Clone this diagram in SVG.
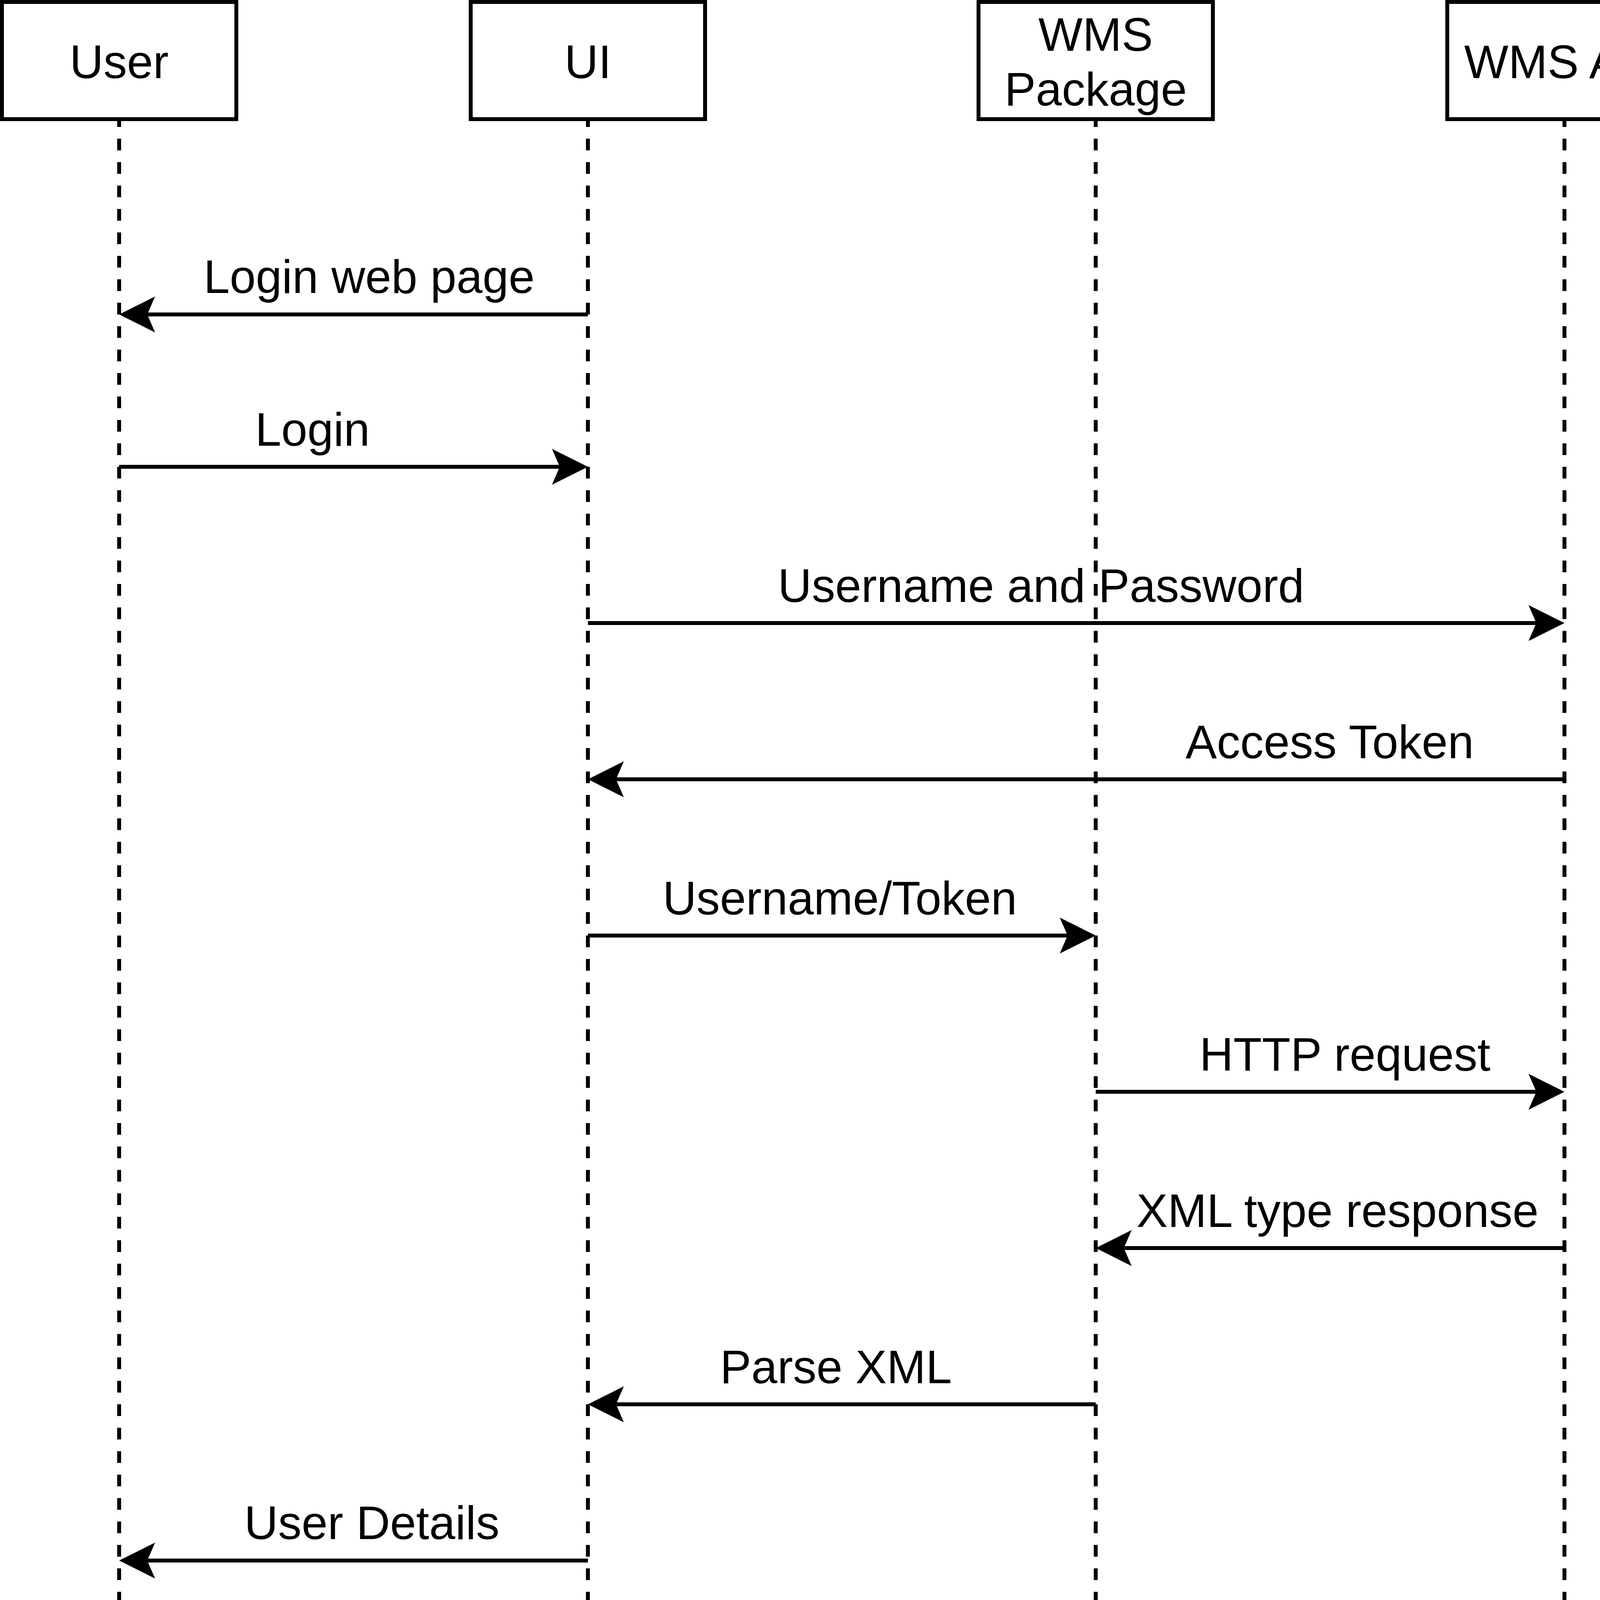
<svg xmlns="http://www.w3.org/2000/svg" width="4310" height="4420" viewBox="0 0 4310 4420">
<style>
.bg{fill:#ffffff}
.life{stroke:#000;stroke-width:10;stroke-dasharray:30 30;fill:none}
.box{fill:#fff;stroke:#000;stroke-width:10}
.msg{stroke:#000;stroke-width:10;fill:none;marker-end:url(#arr)}
text{font-family:"Liberation Sans",Arial,Helvetica,sans-serif;font-size:120px;fill:#000;text-anchor:middle}
</style>
<defs>
<marker id="arr" markerUnits="userSpaceOnUse" orient="auto" refX="0" refY="0" markerWidth="200" markerHeight="200" viewBox="-100 -100 200 200" overflow="visible">
<path d="M72,0 L-20,-46 L0,0 L-20,46 Z" fill="#000"/>
</marker>
</defs>
<rect class="bg" x="0" y="0" width="4310" height="4420"/>
<g id="lifelines">
<line class="life" x1="305" y1="295" x2="305" y2="4420"/>
<line class="life" x1="1505" y1="295" x2="1505" y2="4420"/>
<line class="life" x1="2805" y1="295" x2="2805" y2="4420"/>
<line class="life" x1="4005" y1="295" x2="4005" y2="4420"/>
</g>
<g id="node-user">
<rect class="box" x="5" y="5" width="600" height="300"/>
<text x="305" y="200">User</text>
</g>
<g id="node-ui">
<rect class="box" x="1205" y="5" width="600" height="300"/>
<text x="1505" y="200">UI</text>
</g>
<g id="node-wms-package">
<rect class="box" x="2505" y="5" width="600" height="300"/>
<text x="2805" y="130">WMS</text>
<text x="2805" y="270">Package</text>
</g>
<g id="node-wms-api">
<rect class="box" x="3705" y="5" width="600" height="300"/>
<text x="4005" y="200">WMS API</text>
</g>
<g id="connectors">
<path class="msg" d="M1505,805 H377"/>
<path class="msg" d="M305,1195 H1433"/>
<path class="msg" d="M1505,1595 H3933"/>
<path class="msg" d="M4005,1995 H1577"/>
<path class="msg" d="M1505,2395 H2733"/>
<path class="msg" d="M2805,2795 H3933"/>
<path class="msg" d="M4005,3195 H2877"/>
<path class="msg" d="M2805,3595 H1577"/>
<path class="msg" d="M1505,3995 H377"/>
</g>
<g id="labels">
<text x="945" y="750">Login web page</text>
<text x="800" y="1141">Login</text>
<text x="2665" y="1541">Username and Password</text>
<text x="3404" y="1941">Access Token</text>
<text x="2150" y="2341">Username/Token</text>
<text x="3443" y="2741">HTTP request</text>
<text x="3424" y="3141">XML type response</text>
<text x="2140" y="3541">Parse XML</text>
<text x="952" y="3940">User Details</text>
</g>
</svg>
